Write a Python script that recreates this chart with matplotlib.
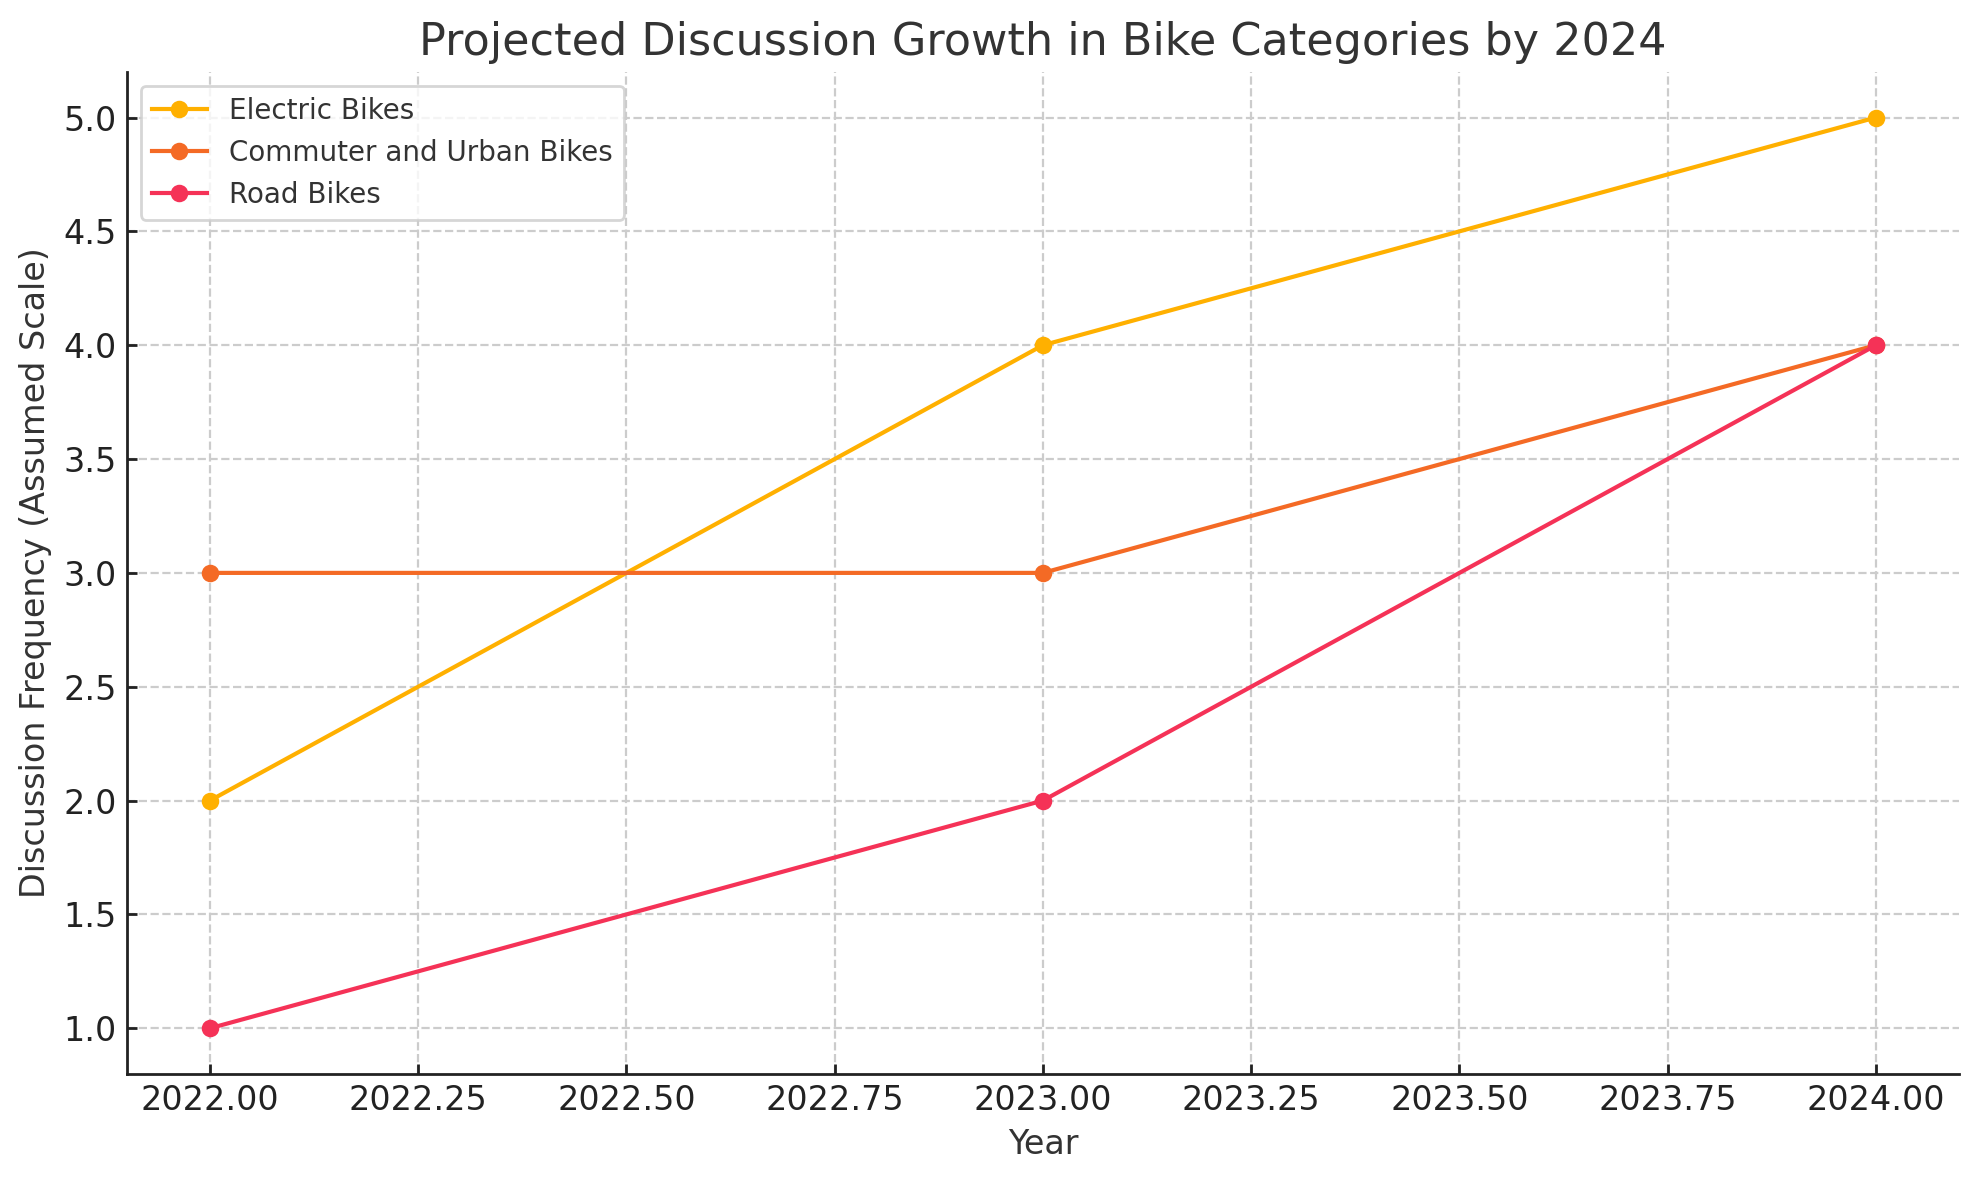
import numpy as np
import matplotlib.pyplot as plt

years = [2022, 2023, 2024]
electric = [2, 4, 5]
commuter = [3, 3, 4]
road = [1, 2, 4]

series = [
    ("Electric Bikes", electric, "#FFB000"),
    ("Commuter and Urban Bikes", commuter, "#F46A25"),
    ("Road Bikes", road, "#F53257"),
]

plt.rcParams['text.color'] = '#333333'
plt.rcParams['axes.labelcolor'] = '#333333'

fig = plt.figure(figsize=(9.895, 5.9), dpi=200)
ax = fig.add_axes([0.064, 0.090, 0.926, 0.849])

for name, vals, color in series:
    ax.plot(years, vals, marker='o', color=color, label=name, linewidth=1.5, markersize=5.3)

ax.set_title("Projected Discussion Growth in Bike Categories by 2024", fontsize=16)
ax.set_xlabel("Year", fontsize=12, labelpad=4)
ax.set_ylabel("Discussion Frequency (Assumed Scale)", fontsize=12, labelpad=4)
ax.tick_params(labelsize=12, direction='in', length=3.5, width=1.0, colors='#222222')
ax.grid(True, linestyle='--', color='#cccccc', linewidth=0.8)
ax.spines['top'].set_visible(False)
ax.spines['right'].set_visible(False)
for s in ['left', 'bottom']:
    ax.spines[s].set_linewidth(1.0)
    ax.spines[s].set_color('#222222')
ax.legend(loc='upper left', fontsize=10)

fig.savefig("out.png", dpi=200)
